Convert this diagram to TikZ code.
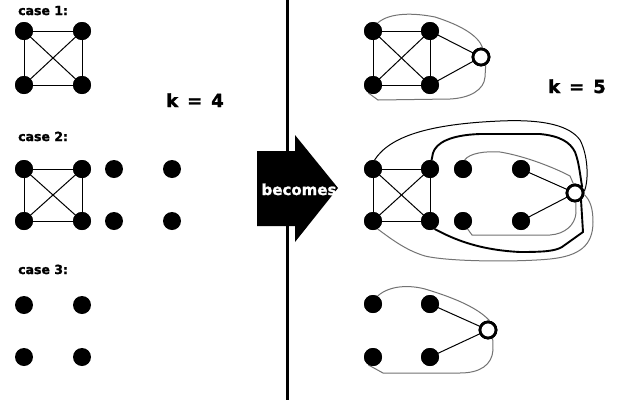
\documentclass[tikz,border=0pt]{standalone}
\usepackage{fontspec}
\setmainfont{DejaVu Sans}[BoldFeatures={FakeBold=1.6}]
\begin{document}
\begin{tikzpicture}[x=1pt,y=-1pt,
  dot/.style={circle,fill=black,draw=none,inner sep=0pt,minimum size=18pt},
  newdot/.style={circle,fill=white,draw=black,line width=2.8pt,inner sep=0pt,minimum size=16pt},
  edge/.style={draw=black,line width=1pt},
  grayc/.style={draw=black!55,line width=1pt},
  blackc/.style={draw=black,line width=1pt},
  thickc/.style={draw=black,line width=1.9pt},
  caselbl/.style={font=\bfseries\fontsize{12.5}{14}\selectfont,anchor=base west,inner sep=0pt},
  klbl/.style={font=\bfseries\fontsize{18}{20}\selectfont,anchor=base,inner sep=0pt}]
\useasboundingbox (0,0) rectangle (625,400);
\fill[white] (0,0) rectangle (625,400);
% divider and arrow
\coordinate (dtop) at (287,0);
\coordinate (dbot) at (287,400);
\draw[line width=3pt] (dtop) -- (dbot);
\fill[black] (257,151)--(295,151)--(295,135)--(338,188)--(295,242)--(295,226)--(257,226)--cycle;
\node[text=white,font=\bfseries\fontsize{15}{17}\selectfont,anchor=base,inner sep=0pt] (becomes) at (299,195) {becomes};
% labels
\node[caselbl] (c1) at (18,15) {case 1:};
\node[caselbl] (c2) at (18,141) {case 2:};
\node[caselbl] (c3) at (18,274) {case 3:};
\node[klbl] (k4) at (195,107) {k\hspace{9pt}=\hspace{9pt}4};
\node[klbl] (k5) at (577,93) {k\hspace{9pt}=\hspace{9pt}5};
% left case 1
\node[dot] (l1a) at (24,31) {};
\node[dot] (l1b) at (82,31) {};
\node[dot] (l1c) at (24,85) {};
\node[dot] (l1d) at (82,85) {};
% left case 2
\node[dot] (l2a) at (24,169) {};
\node[dot] (l2b) at (82,169) {};
\node[dot] (l2c) at (114,169) {};
\node[dot] (l2d) at (172,169) {};
\node[dot] (l2e) at (24,221) {};
\node[dot] (l2f) at (82,221) {};
\node[dot] (l2g) at (114,221) {};
\node[dot] (l2h) at (172,221) {};
% left case 3
\node[dot] (l3a) at (24,305) {};
\node[dot] (l3b) at (82,305) {};
\node[dot] (l3c) at (24,357) {};
\node[dot] (l3d) at (82,357) {};
% right case 1
\node[dot] (a1) at (373,31) {};
\node[dot] (a2) at (430,31) {};
\node[dot] (a3) at (373,85) {};
\node[dot] (a4) at (430,85) {};
\node[newdot] (n1) at (481,57) {};
% right case 2
\node[dot] (p1) at (373,169) {};
\node[dot] (p2) at (430,169) {};
\node[dot] (p3) at (463,169) {};
\node[dot] (p4) at (521,169) {};
\node[dot] (q1) at (373,221) {};
\node[dot] (q2) at (430,221) {};
\node[dot] (q3) at (463,221) {};
\node[dot] (q4) at (521,221) {};
\node[newdot] (n2) at (575,193) {};
% right case 3
\node[dot] (b1) at (373,304) {};
\node[dot] (b2) at (430,304) {};
\node[dot] (b3) at (373,357) {};
\node[dot] (b4) at (430,357) {};
\node[newdot] (n3) at (488,330) {};
% K4 edges
\foreach \a/\b/\c/\d in {l1a/l1b/l1c/l1d, l2a/l2b/l2e/l2f, a1/a2/a3/a4, p1/p2/q1/q2}{
  \draw[edge] (\a.center) -- (\b.center) -- (\d.center) -- (\c.center) -- cycle;
  \draw[edge] (\a.center) -- (\d.center);
  \draw[edge] (\b.center) -- (\c.center);
}
% straight edges to new vertex
\draw[edge] (a2.center) -- (n1.center);
\draw[edge] (a4.center) -- (n1.center);
\draw[edge] (p4.center) -- (n2.center);
\draw[edge] (q4.center) -- (n2.center);
\draw[edge] (b2.center) -- (n3.center);
\draw[edge] (b4.center) -- (n3.center);
% case 1 curves
\draw[grayc] (a1.60) .. controls (390,12) and (415,13) .. (435,17) .. controls (460,25) and (478,35) .. (n1.80);
\draw[grayc] (n1.-60) -- (485,77) .. controls (484,90) and (470,98) .. (450,99) -- (378,100) -- (a3.-120);
% case 3 curves
\draw[grayc] (b1.60) .. controls (390,285) and (410,285) .. (425,289) .. controls (455,298) and (478,308) .. (n3.80);
\draw[grayc] (n3.-60) -- (493,350) .. controls (492,365) and (480,373) .. (460,373) -- (383,373) -- (b3.-120);
% case 2 curves
\draw[blackc] (p1.80) .. controls (390,136) and (430,124) .. (500,121) .. controls (545,119) and (570,126) .. (580,140) .. controls (588,155) and (589,180) .. (n2.10);
\draw[thickc] (p2.80) -- (433,153) .. controls (436,143) and (450,135) .. (480,134) -- (540,134) .. controls (560,136) and (570,142) .. (575,152) .. controls (579,162) and (580,175) .. (n2.40);
\draw[thickc] (n2.-50) -- (583,232) -- (562,247) .. controls (555,251) and (545,252) .. (520,252) .. controls (480,250) and (455,240) .. (q2.-60);
\draw[grayc] (p3.80) .. controls (470,153) and (485,151) .. (500,152) .. controls (525,156) and (555,168) .. (570,176) -- (n2.100);
\draw[grayc] (n2.-85) -- (576,213) .. controls (575,225) and (565,234) .. (550,235) -- (472,235) -- (q3.-60);
\draw[grayc] (n2.-10) .. controls (590,200) and (593,208) .. (593,222) .. controls (593,245) and (580,256) .. (550,259) .. controls (520,262) and (450,262) .. (425,256) .. controls (405,250) and (390,238) .. (q1.-60);
% redraw dots on top
\foreach \n in {a1,a2,a3,a4,p1,p2,p3,p4,q1,q2,q3,q4,b1,b2,b3,b4,l1a,l1b,l1c,l1d,l2a,l2b,l2e,l2f}{
  \fill[black] (\n.center) circle (9pt);
}
\foreach \n in {n1,n2,n3}{
  \draw[fill=white,line width=2.8pt] (\n.center) circle (8pt);
}
\end{tikzpicture}
\end{document}
